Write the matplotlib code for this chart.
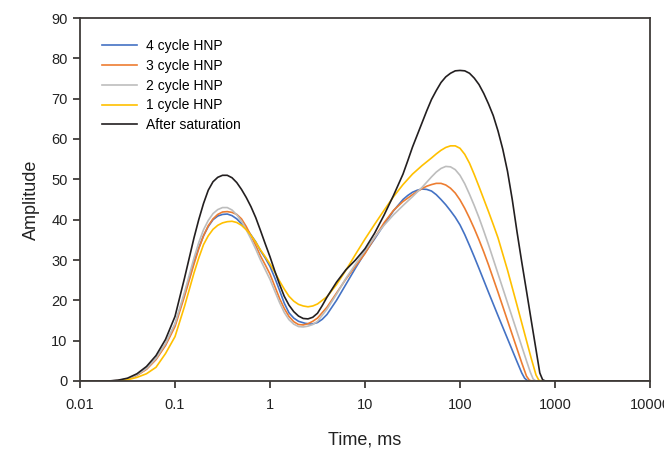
import numpy as np
import matplotlib
matplotlib.use("Agg")
import matplotlib.pyplot as plt

plt.rcParams['font.family'] = ['Liberation Sans', 'DejaVu Sans']

# log10(time, ms) and amplitude
logt_blue = [-2.0, -1.7, -1.6, -1.5, -1.4, -1.3, -1.2, -1.1, -1.0, -0.9, -0.8, -0.75, -0.7, -0.65, -0.6,
             -0.55, -0.5, -0.45, -0.4, -0.35, -0.3, -0.25, -0.2, -0.15, -0.1, -0.05, 0.0, 0.05, 0.1, 0.15,
             0.2, 0.25, 0.3, 0.37, 0.44, 0.5, 0.55, 0.6, 0.7, 0.8, 0.9, 1.0, 1.1, 1.2, 1.3, 1.4, 1.45,
             1.5, 1.55, 1.6, 1.65, 1.7, 1.75, 1.8, 1.85, 1.9, 1.95, 2.0, 2.05, 2.1, 2.15, 2.2, 2.3, 2.4,
             2.5, 2.6, 2.65, 2.68, 2.71, 2.75, 4.0]
amp_blue = [0, 0, 0.1, 0.5, 1.5, 3.0, 5.5, 9.0, 14.0, 21.5, 29.5, 33.0, 36.0, 38.3, 40.0,
            40.9, 41.3, 41.4, 41.0, 40.2, 39.0, 37.8, 36.2, 34.5, 32.3, 30.5, 28.4, 25.6, 22.5, 19.3,
            16.9, 15.6, 14.8, 14.3, 14.1, 14.5, 15.3, 16.5, 20.0, 24.0, 28.0, 31.8, 35.2, 38.8, 42.2, 45.0, 46.0,
            46.8, 47.3, 47.6, 47.5, 47.1, 46.2, 45.0, 43.7, 42.2, 40.6, 38.7, 36.3, 33.6, 30.8, 27.9, 22.0, 16.2,
            10.5, 4.8, 2.0, 0.7, 0.1, 0, 0]

logt_orange = [-2.0, -1.7, -1.6, -1.5, -1.4, -1.3, -1.2, -1.1, -1.0, -0.9, -0.8, -0.75, -0.7, -0.65, -0.6,
               -0.55, -0.5, -0.45, -0.4, -0.35, -0.3, -0.25, -0.2, -0.15, -0.1, -0.05, 0.0, 0.05, 0.1, 0.15,
               0.2, 0.25, 0.3, 0.35, 0.4, 0.45, 0.5, 0.6, 0.7, 0.8, 0.9, 1.0, 1.1, 1.2, 1.3, 1.4, 1.5,
               1.55, 1.6, 1.65, 1.7, 1.75, 1.8, 1.85, 1.9, 1.95, 2.0, 2.05, 2.1, 2.15, 2.2, 2.25, 2.3, 2.4,
               2.5, 2.6, 2.65, 2.7, 2.73, 2.76, 4.0]
amp_orange = [0, 0, 0.1, 0.5, 1.4, 2.9, 5.3, 8.8, 13.5, 21.0, 29.0, 32.8, 36.0, 38.5, 40.2,
              41.3, 41.9, 42.0, 41.8, 41.3, 40.2, 38.3, 36.0, 33.6, 31.0, 28.8, 26.5, 23.5, 20.5, 18.0,
              16.0, 14.7, 14.0, 13.9, 14.2, 14.8, 15.6, 18.3, 21.8, 25.3, 28.5, 31.6, 35.5, 39.2, 42.3, 44.5, 46.2,
              47.0, 47.7, 48.3, 48.7, 49.0, 49.0, 48.6, 47.8, 46.6, 44.9, 42.8, 40.4, 37.8, 35.0, 32.0, 28.8, 22.0,
              15.0, 8.0, 4.5, 1.2, 0.2, 0, 0]

logt_gray = [-2.0, -1.7, -1.6, -1.5, -1.4, -1.3, -1.2, -1.1, -1.0, -0.9, -0.8, -0.75, -0.7, -0.65, -0.6,
             -0.55, -0.5, -0.45, -0.4, -0.35, -0.3, -0.25, -0.2, -0.15, -0.1, -0.05, 0.0, 0.05, 0.1, 0.15,
             0.2, 0.25, 0.3, 0.35, 0.4, 0.45, 0.5, 0.6, 0.7, 0.8, 0.9, 1.0, 1.1, 1.2, 1.3, 1.4, 1.5,
             1.6, 1.65, 1.7, 1.75, 1.8, 1.85, 1.9, 1.95, 2.0, 2.05, 2.1, 2.15, 2.2, 2.25, 2.3, 2.4, 2.5,
             2.6, 2.7, 2.74, 2.77, 2.8, 4.0]
amp_gray = [0, 0, 0.1, 0.5, 1.5, 3.1, 5.6, 9.3, 14.2, 22.0, 30.5, 34.3, 37.5, 39.8, 41.5,
            42.5, 43.0, 43.0, 42.4, 41.2, 39.6, 37.5, 35.2, 32.7, 30.0, 27.6, 25.2, 22.3, 19.5, 17.0,
            15.2, 14.1, 13.5, 13.4, 13.6, 14.0, 14.8, 17.8, 21.5, 25.5, 29.0, 32.3, 35.6, 38.6, 41.2, 43.5, 45.7,
            48.0, 49.3, 50.6, 51.8, 52.7, 53.2, 53.1, 52.4, 51.0, 48.9, 46.3, 43.5, 40.5, 37.2, 33.8, 26.6, 19.4,
            12.2, 5.0, 2.2, 0.5, 0, 0]

logt_yellow = [-2.0, -1.7, -1.6, -1.5, -1.4, -1.3, -1.2, -1.1, -1.0, -0.9, -0.8, -0.75, -0.7, -0.65, -0.6,
               -0.55, -0.5, -0.45, -0.4, -0.35, -0.3, -0.25, -0.2, -0.15, -0.1, -0.05, 0.0, 0.05, 0.1, 0.15,
               0.2, 0.25, 0.3, 0.35, 0.4, 0.45, 0.5, 0.6, 0.7, 0.8, 0.9, 1.0, 1.1, 1.2, 1.3, 1.4, 1.5,
               1.6, 1.7, 1.75, 1.8, 1.85, 1.9, 1.95, 2.0, 2.05, 2.1, 2.15, 2.2, 2.25, 2.3, 2.35, 2.4, 2.5,
               2.6, 2.7, 2.75, 2.8, 2.83, 2.86, 4.0]
amp_yellow = [0, 0, 0.05, 0.3, 0.9, 1.8, 3.4, 6.8, 11.0, 18.5, 26.8, 30.5, 33.8, 36.0, 37.6,
              38.6, 39.2, 39.5, 39.6, 39.3, 38.6, 37.5, 36.1, 34.4, 32.5, 30.8, 29.0, 27.0, 24.8, 22.8,
              21.0, 19.8, 19.0, 18.6, 18.4, 18.6, 19.1, 20.9, 23.9, 27.5, 31.4, 35.2, 38.8, 42.3, 45.7, 48.7, 51.3,
              53.4, 55.3, 56.3, 57.2, 57.9, 58.3, 58.3, 57.7, 56.2, 54.0, 51.2, 48.2, 45.1, 42.0, 38.8, 35.5, 27.5,
              18.8, 10.0, 5.6, 1.5, 0.2, 0, 0]

logt_black = [-2.0, -1.7, -1.6, -1.5, -1.4, -1.3, -1.2, -1.1, -1.0, -0.9, -0.8, -0.75, -0.7, -0.65, -0.6,
              -0.55, -0.5, -0.45, -0.4, -0.35, -0.3, -0.25, -0.2, -0.15, -0.1, -0.05, 0.0, 0.05, 0.1, 0.15,
              0.2, 0.25, 0.3, 0.35, 0.4, 0.45, 0.5, 0.55, 0.6, 0.7, 0.8, 0.9, 1.0, 1.1, 1.2, 1.3, 1.4, 1.45,
              1.5, 1.55, 1.6, 1.65, 1.7, 1.75, 1.8, 1.85, 1.9, 1.95, 2.0, 2.05, 2.1, 2.15, 2.2, 2.25, 2.3,
              2.35, 2.4, 2.45, 2.5, 2.55, 2.6, 2.65, 2.7, 2.75, 2.8, 2.84, 2.87, 2.9, 4.0]
amp_black = [0, 0, 0.2, 0.7, 1.8, 3.6, 6.3, 10.3, 16.0, 25.5, 35.5, 40.0, 44.0, 47.3, 49.4,
             50.5, 51.0, 51.0, 50.4, 49.2, 47.5, 45.5, 43.2, 40.5, 37.3, 34.0, 30.8, 27.3, 24.0, 21.0,
             18.8, 17.2, 16.1, 15.5, 15.4, 15.8, 16.8, 18.7, 20.8, 24.5, 27.6, 30.0, 32.8, 36.6, 41.1, 46.0, 51.3, 54.6,
             58.0, 61.0, 64.0, 67.0, 69.8, 72.0, 74.0, 75.4, 76.3, 76.9, 77.0, 76.9, 76.3, 75.1, 73.5, 71.3, 68.7,
             65.8, 62.0, 57.5, 52.0, 45.0, 37.0, 29.5, 22.3, 15.0, 7.8, 2.0, 0.3, 0, 0]

labels = ['4 cycle HNP', '3 cycle HNP', '2 cycle HNP', '1 cycle HNP', 'After saturation']
colors = ['#4472C4', '#ED7D31', '#BDBDBD', '#FFC000', '#231F20']
series = [(logt_blue, amp_blue), (logt_orange, amp_orange), (logt_gray, amp_gray),
          (logt_yellow, amp_yellow), (logt_black, amp_black)]

fig = plt.figure(figsize=(6.64, 4.49), dpi=100)
ax = fig.add_axes([80/664, 1 - 381/449, 570/664, 363/449])

for (lt, a), c, lab in zip(series, colors, labels):
    ax.plot(10 ** np.array(lt), a, color=c, lw=1.2, label=lab, solid_joinstyle='round')

ax.set_xscale('log')
ax.set_xlim(0.01, 10000)
ax.set_ylim(0, 90)
ax.set_xticks([0.01, 0.1, 1, 10, 100, 1000, 10000])
ax.set_xticklabels(['0.01', '0.1', '1', '10', '100', '1000', '10000'])
ax.xaxis.set_minor_locator(matplotlib.ticker.NullLocator())
ax.set_yticks(range(0, 91, 10))

spine_col = '#3f3b39'
for s in ax.spines.values():
    s.set_color(spine_col)
    s.set_linewidth(1.3)
ax.tick_params(direction='out', length=5, width=1.3, color=spine_col,
               labelsize=10.5, labelcolor='#222222', pad=4)
ax.tick_params(axis='x', pad=7)

ax.set_xlabel('Time, ms', fontsize=13, color='#222222', labelpad=14)
ax.set_ylabel('Amplitude', fontsize=13, color='#222222', labelpad=8)

ax.legend(loc='upper left', bbox_to_anchor=(102/664, 1 - 39/449), bbox_transform=fig.transFigure,
          frameon=False, fontsize=10, handlelength=2.5, handletextpad=0.7,
          labelspacing=0.42, borderpad=0, borderaxespad=0)

fig.savefig('out.png', dpi=100)
